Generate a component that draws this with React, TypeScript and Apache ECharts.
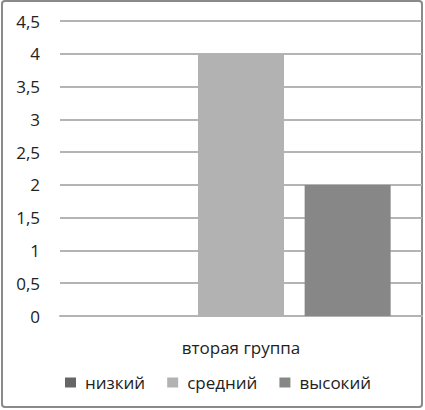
import React, { useEffect, useRef } from "react";
import * as echarts from "echarts";

const categories = ["вторая группа"];
const seriesNames = ["низкий", "средний", "высокий"];
const lowValues = [0];
const midValues = [4];
const highValues = [2];
const colors = ["#666666", "#b2b2b2", "#878787"];

export default function App() {
  const ref = useRef<HTMLDivElement>(null);
  useEffect(() => {
    document.body.style.margin = "0";
    const chart = echarts.init(ref.current!, null, { renderer: "svg" });
    const font = "Open Sans, sans-serif";
    const values = [lowValues, midValues, highValues];
    chart.setOption({
      animation: false,
      backgroundColor: "#ffffff",
      textStyle: { fontFamily: font },
      graphic: [
        {
          type: "rect",
          shape: { x: 2, y: 1, width: 420, height: 406, r: 3 },
          style: { fill: "none", stroke: "#8a8a8a", lineWidth: 2 },
          silent: true,
        },
      ],
      grid: { left: 60, right: 3, top: 21, bottom: 94 },
      legend: {
        data: seriesNames,
        left: 60,
        top: 369,
        icon: "rect",
        itemWidth: 11,
        itemHeight: 10,
        itemGap: 22,
        textStyle: { fontSize: 17, color: "#222", fontFamily: font, padding: [0, 0, 0, 4] },
      },
      xAxis: {
        type: "category",
        data: categories,
        axisTick: { show: false },
        axisLine: { show: true, lineStyle: { color: "#b4b4b4", width: 2 } },
        axisLabel: { fontSize: 17, color: "#222", margin: 23, fontFamily: font },
      },
      yAxis: {
        type: "value",
        min: 0,
        max: 4.5,
        interval: 0.5,
        axisLine: { show: false },
        axisTick: { show: false },
        splitLine: { lineStyle: { color: "#b4b4b4", width: 2 } },
        axisLabel: {
          fontSize: 17,
          color: "#222",
          margin: 20,
          fontFamily: font,
          formatter: (v: number) => String(v).replace(".", ","),
        },
      },
      series: seriesNames.map((name, i) => ({
        name,
        type: "bar",
        data: values[i],
        barWidth: 86,
        barGap: "24%",
        itemStyle: { color: colors[i] },
      })),
    });
    return () => chart.dispose();
  }, []);
  return <div ref={ref} style={{ width: 425, height: 410 }} />;
}
